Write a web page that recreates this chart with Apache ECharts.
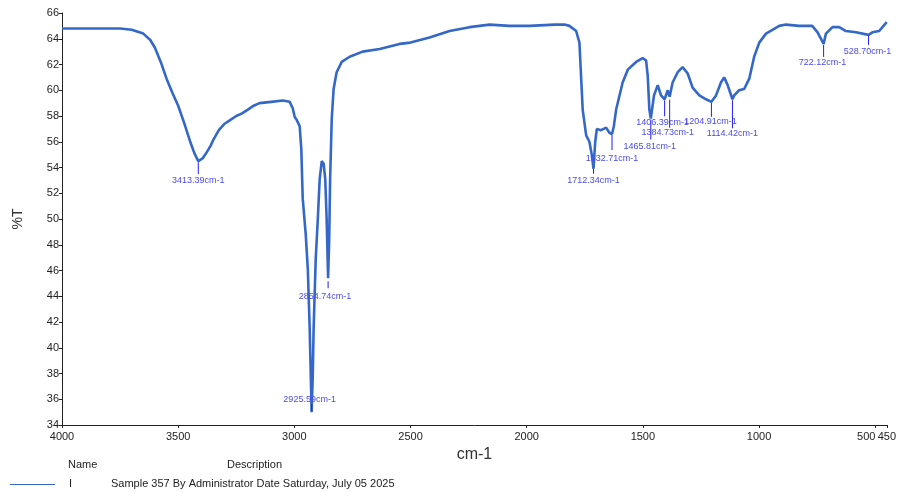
<!DOCTYPE html>
<html>
<head>
<meta charset="utf-8">
<script src="https://cdn.jsdelivr.net/npm/echarts@6/dist/echarts.min.js"></script>
<style>
html,body{margin:0;padding:0;background:#fff;}
#chart{width:899px;height:492px;}
</style>
</head>
<body>
<div id="chart"></div>
<script>
// Spectrum: wavenumber (cm-1) and transmittance (%T)
var wavenumbers = [
  4000, 3900, 3800, 3750, 3700, 3650, 3620, 3600, 3575, 3550, 3525, 3500, 3475, 3450, 3430, 3413.39,
  3395, 3380, 3360, 3350, 3325, 3300, 3275, 3250, 3225, 3200, 3175, 3150, 3100, 3050, 3020, 3007,
  2998, 2990, 2977, 2970, 2964, 2951, 2942, 2934, 2929, 2925.59, 2921, 2917, 2908, 2899, 2891, 2882,
  2874, 2867, 2861, 2854.74, 2850, 2846, 2839, 2831, 2818, 2796, 2762, 2706, 2633, 2547, 2500, 2418,
  2332, 2246, 2160, 2074, 1988, 1880, 1837, 1816, 1787, 1773, 1766, 1759, 1744, 1730, 1720, 1712.34,
  1705, 1698, 1680, 1658, 1644, 1632.71, 1625, 1615, 1587, 1565, 1529, 1501, 1486, 1479, 1472, 1465.81,
  1452, 1436, 1422, 1406.39, 1393, 1384.73, 1372, 1350, 1329, 1307, 1286, 1257, 1228, 1204.91, 1185, 1164,
  1150, 1135, 1114.42, 1107, 1086, 1064, 1042, 1021, 999, 970, 913, 884, 827, 771, 748, 722.12,
  712, 684, 655, 626, 583, 528.70, 512, 483, 455, 450
];
var transmittance = [
  64.8, 64.8, 64.8, 64.8, 64.7, 64.4, 63.9, 63.3, 62.2, 60.9, 59.8, 58.8, 57.5, 56.1, 55.1, 54.5,
  54.7, 55.1, 55.7, 56.1, 56.9, 57.4, 57.7, 58.0, 58.2, 58.5, 58.8, 59.0, 59.1, 59.2, 59.1, 58.6,
  57.9, 57.7, 57.2, 55.4, 51.6, 48.8, 46.1, 41.5, 37.6, 35.0, 37.6, 41.5, 46.9, 50.0, 53.1, 54.5,
  54.3, 53.1, 50.0, 45.4, 48.4, 53.1, 57.8, 60.1, 61.4, 62.2, 62.6, 63.0, 63.2, 63.6, 63.7, 64.1,
  64.6, 64.9, 65.1, 65.0, 65.0, 65.1, 65.1, 65.0, 64.6, 63.7, 61.1, 58.5, 56.5, 56.0, 55.0, 53.9,
  56.0, 57.0, 56.9, 57.1, 56.7, 56.6, 57.2, 58.5, 60.6, 61.6, 62.2, 62.5, 62.3, 61.1, 58.5, 57.8,
  59.6, 60.4, 59.6, 59.3, 60.0, 59.5, 60.6, 61.4, 61.8, 61.3, 60.2, 59.6, 59.3, 59.1, 59.6, 60.6,
  61.0, 60.4, 59.3, 59.6, 60.0, 60.1, 60.9, 62.6, 63.7, 64.4, 65.0, 65.1, 65.0, 65.0, 64.5, 63.6,
  64.4, 64.9, 64.9, 64.6, 64.5, 64.3, 64.5, 64.6, 65.2, 65.3
];

// Labelled peaks
var peakWavenumbers = [3413.39, 2925.59, 2854.74, 1712.34, 1632.71, 1465.81, 1406.39, 1384.73, 1204.91, 1114.42, 722.12, 528.70];
var peakValues      = [54.5,    35.0,    45.4,    53.9,    56.6,    57.8,    59.3,    59.5,    59.1,    59.3,    63.6,   64.3];

// Tick labels
var xTicks = [4000, 3500, 3000, 2500, 2000, 1500, 1000, 500, 450];
var yMin = 34, yMax = 66, yStep = 2;

// Annotation layout (pixels, relative to the peak point): [lineFrom, lineTo, labelDy, labelDx]
var peakLayout = [
  [1, 13, 19, 0],
  [-8, -1, -13, -2],
  [3, 10, 18, -3],
  [0, 5, 12, 0],
  [1, 16, 24, 0],
  [1, 21, 28, -1],
  [1, 17, 23, -2],
  [3, 31, 36, -2],
  [1, 15, 20, -1],
  [1, 29, 34, 0],
  [1, 13, 19, -1],
  [1, 10, 17, -1]
];

var lineData = wavenumbers.map(function (w, i) { return [w, transmittance[i]]; });
var peakData = peakWavenumbers.map(function (w, i) { return [w, peakValues[i]]; });

var chart = echarts.init(document.getElementById('chart'), null, { renderer: 'canvas' });
var FONT = '"Liberation Sans", Arial, sans-serif';

chart.setOption({
  animation: false,
  backgroundColor: '#ffffff',
  grid: { left: 62, right: 11, top: 13, bottom: 67, containLabel: false },
  xAxis: {
    type: 'value',
    min: 450,
    max: 4000,
    inverse: true,
    name: 'cm-1',
    nameLocation: 'middle',
    nameGap: 19,
    nameTextStyle: { fontFamily: FONT, fontSize: 16, color: '#333' },
    axisLine: { show: true, lineStyle: { color: '#222', width: 1 } },
    axisTick: { show: true, customValues: xTicks, length: 3, lineStyle: { color: '#222' } },
    axisLabel: {
      customValues: xTicks,
      fontFamily: FONT, fontSize: 11, color: '#222', margin: 6,
      formatter: function (v) { return v === 500 ? '{s|500}' : String(v); },
      rich: { s: { fontFamily: FONT, fontSize: 11, color: '#222', padding: [0, 18, 0, 0] } }
    },
    splitLine: { show: false }
  },
  yAxis: {
    type: 'value',
    min: yMin,
    max: yMax,
    interval: yStep,
    name: '%T',
    nameLocation: 'middle',
    nameRotate: 90,
    nameGap: 37,
    nameTextStyle: { fontFamily: FONT, fontSize: 14, color: '#333' },
    axisLine: { show: true, lineStyle: { color: '#222', width: 1 } },
    axisTick: { show: true, length: 3, lineStyle: { color: '#222' } },
    axisLabel: { fontFamily: FONT, fontSize: 11, color: '#222', margin: 3 },
    splitLine: { show: false }
  },
  series: [
    {
      name: 'I',
      type: 'line',
      data: lineData,
      showSymbol: false,
      symbol: 'none',
      smooth: false,
      lineStyle: { color: '#3468c8', width: 2.6 },
      silent: true,
      z: 2
    },
    {
      type: 'custom',
      data: peakData,
      silent: true,
      clip: false,
      z: 3,
      renderItem: function (params, api) {
        var p = api.coord([api.value(0), api.value(1)]);
        var L = peakLayout[params.dataIndex];
        var txt = peakWavenumbers[params.dataIndex].toFixed(2) + 'cm-1';
        return {
          type: 'group',
          children: [
            {
              type: 'line',
              shape: { x1: p[0], y1: p[1] + L[0], x2: p[0], y2: p[1] + L[1] },
              style: { stroke: '#1f1fff', lineWidth: 1 }
            },
            {
              type: 'text',
              x: p[0] + L[3],
              y: p[1] + L[2],
              style: {
                text: txt,
                fill: '#4a4af2',
                font: '9px ' + FONT,
                align: 'center',
                verticalAlign: 'middle'
              }
            }
          ]
        };
      }
    }
  ],
  graphic: [
    { type: 'text', left: 68, top: 459, style: { text: 'Name', font: '11px ' + FONT, fill: '#222' } },
    { type: 'text', left: 227, top: 459, style: { text: 'Description', font: '11px ' + FONT, fill: '#222' } },
    { type: 'line', shape: { x1: 10, y1: 484.5, x2: 55, y2: 484.5 }, style: { stroke: '#3468c8', lineWidth: 1 } },
    { type: 'text', left: 69, top: 478, style: { text: 'I', font: '11px ' + FONT, fill: '#222' } },
    { type: 'text', left: 111, top: 478, style: { text: 'Sample 357 By Administrator Date Saturday, July 05 2025', font: '11px ' + FONT, fill: '#222' } }
  ]
});
</script>
</body>
</html>
